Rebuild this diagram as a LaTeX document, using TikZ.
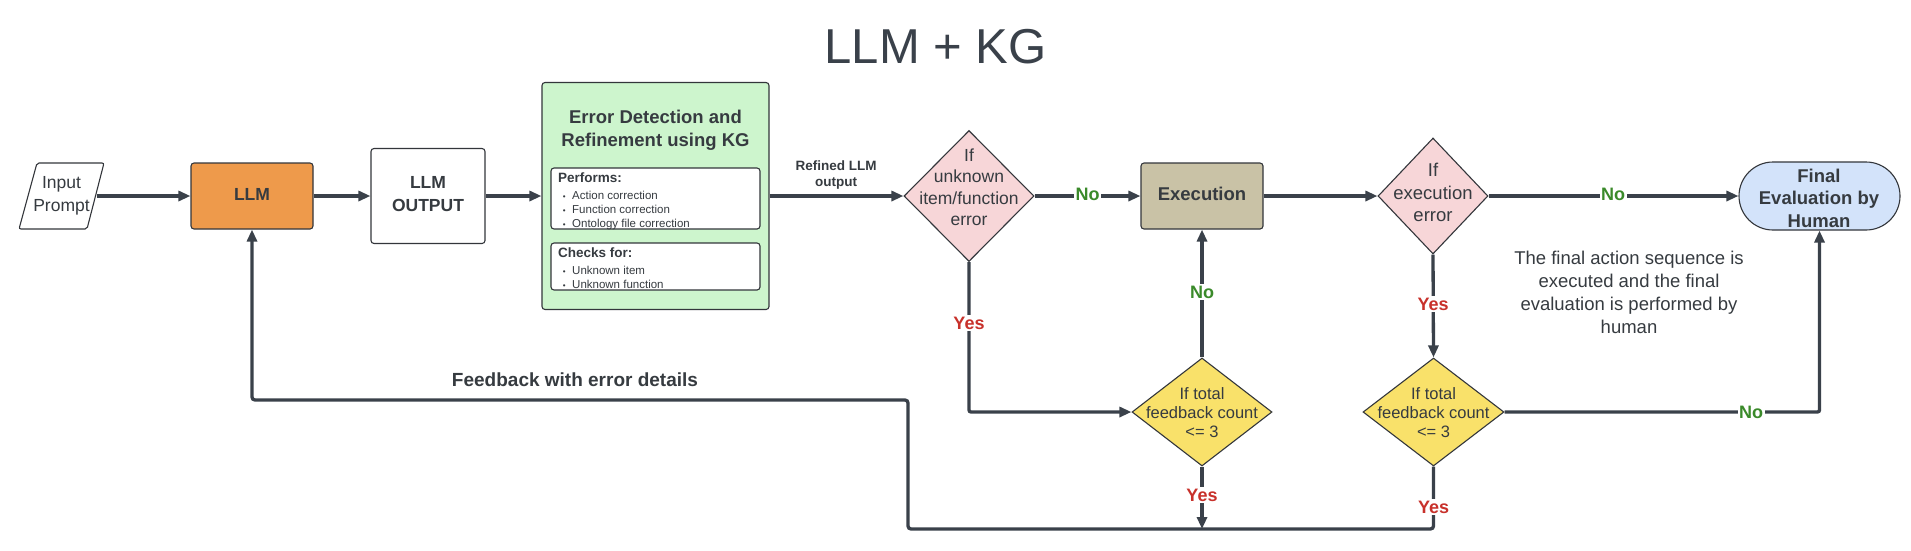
\documentclass[tikz,border=0pt]{standalone}
\usepackage{fontspec}
\setmainfont{Liberation Sans}
\usetikzlibrary{shapes.geometric,shapes.misc,arrows.meta}
\definecolor{ln}{HTML}{3A414A}
\definecolor{txt}{HTML}{363B40}
\definecolor{bd}{HTML}{33363B}
\definecolor{org}{HTML}{EE9A4B}
\definecolor{kgg}{HTML}{CDF5CD}
\definecolor{pnk}{HTML}{F7D6D8}
\definecolor{kha}{HTML}{C9C2A6}
\definecolor{ylw}{HTML}{F9E16A}
\definecolor{blu}{HTML}{D3E3FA}
\definecolor{gtx}{HTML}{3A8A2A}
\definecolor{rtx}{HTML}{C8312B}
\newcommand\myfs[2]{\fontsize{#1}{#2}\selectfont}
\newcommand\bul{\llap{{\myfs{8}{8}•}\hspace{6.5pt}}}
\begin{document}
\begin{tikzpicture}[x=1pt,y=-1pt,
  every node/.style={text=txt},
  box/.style={draw=bd, line width=1.1pt, rounded corners=3pt, inner sep=0pt},
  dia/.style={diamond, draw=bd, line width=1.1pt, inner sep=0pt},
  conn/.style={draw=ln, line width=3.3pt, -{Triangle[length=12pt,width=10pt]}},
  lab/.style={fill=white, inner sep=1.5pt, font=\bfseries\myfs{18}{18}},
  lyes/.style={lab, text=rtx},
  lno/.style={lab, text=gtx},
  item/.style={anchor=base west, inner sep=0pt, font=\myfs{11.5}{14}},
  hdr/.style={anchor=base west, inner sep=0pt, font=\bfseries\myfs{13.5}{16}}
]
\useasboundingbox[fill=white] (0,0) rectangle (1911,550);

% title
\node[font=\myfs{49}{55}, anchor=base, text=ln] (title) at (935.5,63) {LLM + KG};

% input prompt (parallelogram)
\draw[draw=bd, line width=1.1pt, rounded corners=2pt, fill=white]
  (37,163) -- (104,163) -- (87,229) -- (19,229) -- cycle;
\node[minimum width=71, minimum height=66, inner sep=0pt, align=center, font=\myfs{17.5}{23.5}] (ip) at (61.5,196) {Input\\Prompt};

% LLM
\node[box, fill=org, minimum width=122, minimum height=66] (llm) at (252,196) {};
\node[font=\bfseries\myfs{17.5}{21}] (llmt) at (252,194) {LLM};

% LLM OUTPUT
\node[box, fill=white, minimum width=114, minimum height=95] (out) at (428,196) {};
\node[align=center, font=\bfseries\myfs{17.5}{22.4}] (outt) at (428,194.2) {LLM\\OUTPUT};

% KG box
\node[box, fill=kgg, minimum width=227, minimum height=227] (kg) at (655.5,196) {};
\node[align=center, font=\bfseries\myfs{18.5}{22.7}] (kgt) at (655.5,130) {Error Detection and\\Refinement using KG};
\node[box, fill=white, minimum width=209, minimum height=61] (perf) at (655.5,198.5) {};
\node[box, fill=white, minimum width=209, minimum height=47] (chk) at (655.5,266.5) {};
\node[hdr] (ph) at (558,182) {Performs:};
\node[item] (p1) at (572,199) {\bul Action correction};
\node[item] (p2) at (572,213) {\bul Function correction};
\node[item] (p3) at (572,227) {\bul Ontology file correction};
\node[hdr] (ch) at (558,257) {Checks for:};
\node[item] (c1) at (572,274) {\bul Unknown item};
\node[item] (c2) at (572,288) {\bul Unknown function};

\node[align=center, font=\bfseries\myfs{13.5}{16}] (rl) at (836,174.6) {Refined LLM\\output};

% decision 1
\node[dia, fill=pnk, minimum width=130, minimum height=131] (d1) at (969,196) {};
\node[align=center, font=\myfs{17.5}{21.5}] (d1t) at (969,187) {If\\unknown\\item/function\\error};

% execution
\node[box, fill=kha, minimum width=122, minimum height=66] (ex) at (1202,196) {};
\node[font=\bfseries\myfs{18.5}{22}] (ext) at (1202,193.5) {Execution};

% decision 2
\node[dia, fill=pnk, minimum width=110, minimum height=116] (d2) at (1433,196) {};
\node[align=center, font=\myfs{18.5}{22.5}] (d2t) at (1433,192.5) {If\\execution\\error};

% final
\node[rounded rectangle, draw=bd, line width=1.1pt, fill=blu, minimum width=161, minimum height=68, inner sep=0pt] (fin) at (1819.5,196) {};
\node[align=center, font=\bfseries\myfs{18.5}{22.5}] (fint) at (1819,198) {Final\\Evaluation by\\Human};

% note
\node[align=center, font=\myfs{18.5}{23}] (note) at (1629,292.5) {The final action sequence is\\executed and the final\\evaluation is performed by\\human};

% feedback decisions
\node[dia, fill=ylw, minimum width=140, minimum height=108] (yl1) at (1202,412) {};
\node[align=center, font=\myfs{16.5}{19}] (yl1t) at (1202,412.5) {If total\\feedback count\\<= 3};
\node[dia, fill=ylw, minimum width=141, minimum height=108] (yl2) at (1433.5,412) {};
\node[align=center, font=\myfs{16.5}{19}] (yl2t) at (1433.5,412.5) {If total\\feedback count\\<= 3};

\node[font=\bfseries\myfs{19}{22}] (fbl) at (575,379.3) {Feedback with error details};

% helper coordinates for feedback loop
\coordinate (fbA) at (1433.5,529);
\coordinate (fbB) at (908,529);
\coordinate (fbC) at (908,400);
\coordinate (fbD) at (252,400);

% connectors
\draw[conn] (ip.east) -- (llm.west);
\draw[conn] (llm.east) -- (out.west);
\draw[conn] (out.east) -- (kg.west);
\draw[conn] (kg.east) -- (d1.west);
\draw[conn] (d1.east) -- (ex.west);
\draw[conn] (ex.east) -- (d2.west);
\draw[conn] (d2.east) -- (fin.west);
\draw[conn, rounded corners=2pt] (d1.south) |- (yl1.west);
\draw[conn] (yl1.north) -- (ex.south);
\draw[conn] (d2.south) -- (yl2.north);
\draw[conn, rounded corners=2pt] (yl2.east) -| (fin.south);
\draw[conn] (yl1.south) -- (yl1.south |- fbA);
\draw[conn, rounded corners=3pt] (yl2.south) -- (fbA) -- (fbB) -- (fbC) -- (fbD) -- (llm.south);

% labels
\node[lno] (n1) at (1087.5,194.5) {No};
\node[lyes] (ys1) at (969,323) {Yes};
\node[lno] (n2) at (1202,292) {No};
\node[lyes] (ys2) at (1433,304) {Yes};
\node[lno] (n3) at (1613,194.5) {No};
\node[lyes] (ys3) at (1202,495) {Yes};
\node[lyes] (ys4) at (1433.5,507) {Yes};
\node[lno] (n4) at (1751,412) {No};
\end{tikzpicture}
\end{document}
